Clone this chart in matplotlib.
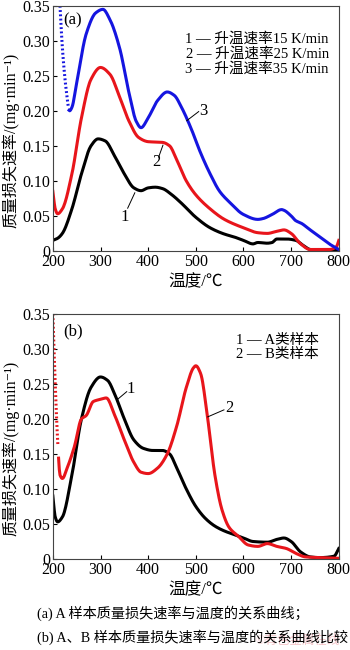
import numpy as np
import matplotlib
matplotlib.use("Agg")
import matplotlib.pyplot as plt

plt.rcParams['font.family'] = ['Liberation Serif', 'Noto Sans CJK SC', 'DejaVu Sans']

# panel (a): heating rates
x_a1 = [200, 210, 220, 240, 260, 280, 295, 310, 330, 350, 370, 385, 400, 415, 430, 450, 470, 500,
        530, 560, 580, 600, 620, 630, 650, 660, 670, 690, 710, 725, 740, 760, 780, 800]
y_a1 = [0.015, 0.018, 0.025, 0.06, 0.11, 0.15, 0.16, 0.157, 0.135, 0.11, 0.09, 0.086, 0.09, 0.091,
        0.089, 0.08, 0.068, 0.048, 0.033, 0.024, 0.02, 0.015, 0.01, 0.012, 0.011, 0.012, 0.017,
        0.017, 0.015, 0.008, 0.002, 0.001, 0.002, 0.0]

x_a2 = [200, 205, 210, 220, 240, 260, 280, 300, 320, 340, 360, 380, 400, 430, 445, 460, 480, 500,
        530, 560, 600, 630, 650, 670, 685, 700, 720, 740, 780, 795, 800]
y_a2 = [0.085, 0.06, 0.053, 0.06, 0.11, 0.19, 0.245, 0.262, 0.252, 0.22, 0.185, 0.162, 0.156,
        0.155, 0.15, 0.13, 0.10, 0.08, 0.06, 0.045, 0.033, 0.026, 0.025, 0.028, 0.03, 0.025,
        0.01, 0.002, 0.002, 0.006, 0.015]

x_a3 = [215, 220, 228, 235, 240, 250, 270, 290, 305, 320, 340, 360, 375, 385, 400, 420, 440, 455,
        470, 490, 510, 530, 550, 570, 600, 630, 640, 660, 680, 685, 700, 710, 720, 740, 760, 780, 800]
y_a3 = [0.35, 0.29, 0.23, 0.2, 0.205, 0.24, 0.31, 0.34, 0.345, 0.33, 0.29, 0.225, 0.185, 0.176,
        0.19, 0.215, 0.227, 0.222, 0.205, 0.175, 0.14, 0.11, 0.085, 0.07, 0.052, 0.045, 0.046,
        0.052, 0.059, 0.058, 0.05, 0.043, 0.04, 0.03, 0.02, 0.01, 0.002]

# panel (b): samples A and B
x_b1 = [200, 205, 210, 220, 240, 260, 280, 300, 315, 330, 350, 370, 390, 410, 430, 445, 460, 480,
        500, 520, 540, 560, 580, 600, 620, 650, 670, 685, 700, 720, 740, 760, 790, 800]
y_b1 = [0.09, 0.06, 0.053, 0.06, 0.12, 0.2, 0.245, 0.26, 0.255, 0.235, 0.2, 0.17, 0.158, 0.155,
        0.155, 0.15, 0.13, 0.10, 0.075, 0.058, 0.047, 0.04, 0.035, 0.03, 0.025, 0.024, 0.028,
        0.03, 0.025, 0.01, 0.003, 0.002, 0.004, 0.015]

x_b2 = [200, 205, 210, 215, 220, 230, 245, 260, 270, 285, 300, 312, 330, 350, 370, 385, 400, 420,
        440, 460, 480, 495, 500, 510, 525, 540, 555, 570, 590, 610, 630, 650, 670, 690, 710, 730,
        760, 800]
y_b2 = [0.35, 0.25, 0.17, 0.12, 0.115, 0.13, 0.16, 0.2, 0.205, 0.225, 0.228, 0.23, 0.205, 0.17,
        0.138, 0.124, 0.122, 0.13, 0.15, 0.19, 0.245, 0.273, 0.276, 0.265, 0.2, 0.12, 0.07,
        0.045, 0.032, 0.02, 0.018, 0.022, 0.018, 0.015, 0.008, 0.003, 0.002, 0.001]

legend_a = ["1 \u2014 升温速率15 K/min", "2 \u2014 升温速率25 K/min", "3 \u2014 升温速率35 K/min"]
legend_b = ["1 \u2014 A类样本", "2 \u2014 B类样本"]
yticks = [0, 0.05, 0.10, 0.15, 0.20, 0.25, 0.30, 0.35]
ytick_labels = ["0", "0.05", "0.10", "0.15", "0.20", "0.25", "0.30", "0.35"]
xticks = [200, 300, 400, 500, 600, 700, 800]


def smooth(x, y, n=400):
    # piecewise cubic hermite through the read points
    xs = np.linspace(x[0], x[-1], n)
    x = np.asarray(x, float)
    y = np.asarray(y, float)
    h = np.diff(x)
    d = np.diff(y) / h
    m = np.zeros_like(y)
    m[0], m[-1] = d[0], d[-1]
    for i in range(1, len(y) - 1):
        if d[i - 1] * d[i] <= 0:
            m[i] = 0
        else:
            w1 = 2 * h[i] + h[i - 1]
            w2 = h[i] + 2 * h[i - 1]
            m[i] = (w1 + w2) / (w1 / d[i - 1] + w2 / d[i])
    idx = np.clip(np.searchsorted(x, xs) - 1, 0, len(x) - 2)
    t = (xs - x[idx]) / h[idx]
    h00 = 2 * t**3 - 3 * t**2 + 1
    h10 = t**3 - 2 * t**2 + t
    h01 = -2 * t**3 + 3 * t**2
    h11 = t**3 - t**2
    ys = h00 * y[idx] + h10 * h[idx] * m[idx] + h01 * y[idx + 1] + h11 * h[idx] * m[idx + 1]
    return xs, ys


def style_axes(ax):
    ax.set_xlim(200, 800)
    ax.set_ylim(0, 0.35)
    ax.set_xticks(xticks)
    ax.set_yticks(yticks)
    ax.set_yticklabels(ytick_labels)
    ax.tick_params(direction='in', length=3, labelsize=11.5, pad=2)
    for s in ax.spines.values():
        s.set_linewidth(0.8)
        s.set_color('#444444')
    ax.set_xlabel("温度/℃", fontsize=12, labelpad=3)
    ax.set_ylabel("质量损失速率/(mg·min\u207b\u00b9)", fontsize=11.5, va='center')
    ax.yaxis.set_label_coords(-0.148, 0.45)


fig = plt.figure(figsize=(3.5, 6.5), dpi=100)
ax1 = fig.add_axes([0.151, 0.614, 0.817, 0.377])
ax2 = fig.add_axes([0.151, 0.140, 0.817, 0.377])

# (a)
xs, ys = smooth(x_a1, y_a1)
ax1.plot(xs, ys, color='black', lw=2.2)
xs, ys = smooth(x_a2, y_a2)
ax1.plot(xs, ys, color='#e8151b', lw=2.2)
xs, ys = smooth(x_a3, y_a3)
steep = xs < 233
ax1.plot(xs[steep], ys[steep], color='#1515e0', lw=2.2, ls=(0, (0.6, 0.8)))
ax1.plot(xs[~steep], ys[~steep], color='#1515e0', lw=2.2)
style_axes(ax1)
ax1.text(0.035, 0.975, "(a)", transform=ax1.transAxes, fontsize=12, va='top', ha='left')
for i, s in enumerate(legend_a):
    ax1.text(0.965, 0.865 - i * 0.062, s, transform=ax1.transAxes, fontsize=10.5,
             ha='right', va='center')
ax1.plot([357, 372], [0.061, 0.083], color='black', lw=0.7)
ax1.text(351, 0.049, "1", fontsize=12, ha='center', va='center')
ax1.plot([422, 431], [0.134, 0.151], color='black', lw=0.7)
ax1.text(418, 0.127, "2", fontsize=12, ha='center', va='center')
ax1.plot([481, 506], [0.186, 0.199], color='black', lw=0.7)
ax1.text(515, 0.2, "3", fontsize=12, ha='center', va='center')

# (b)
xs, ys = smooth(x_b1, y_b1)
ax2.plot(xs, ys, color='black', lw=2.2)
xs, ys = smooth(x_b2, y_b2)
steep = xs < 212
ax2.plot(xs[steep], ys[steep], color='#e8151b', lw=2.2, ls=(0, (0.6, 0.8)))
ax2.plot(xs[~steep], ys[~steep], color='#e8151b', lw=2.2)
style_axes(ax2)
ax2.text(0.035, 0.96, "(b)", transform=ax2.transAxes, fontsize=12, va='top', ha='left')
for i, s in enumerate(legend_b):
    ax2.text(0.93, 0.89 - i * 0.057, s, transform=ax2.transAxes, fontsize=10.5,
             ha='right', va='center')
ax2.plot([334, 355], [0.227, 0.239], color='black', lw=0.7)
ax2.text(364, 0.243, "1", fontsize=12, ha='center', va='center')
ax2.plot([525, 559], [0.203, 0.213], color='black', lw=0.7)
ax2.text(571, 0.216, "2", fontsize=12, ha='center', va='center')

# captions
fig.text(0.97, 1 - 641 / 650, "©有色金属在线", fontsize=9, color='#f4c4c8',
         ha='right', va='center')
fig.text(37 / 350, 1 - 613 / 650, "(a) A 样本质量损失速率与温度的关系曲线；", fontsize=10.2,
         ha='left', va='center')
fig.text(37 / 350, 1 - 637 / 650, "(b) A、B 样本质量损失速率与温度的关系曲线比较", fontsize=10.2,
         ha='left', va='center')

fig.savefig("out.png", dpi=100)
